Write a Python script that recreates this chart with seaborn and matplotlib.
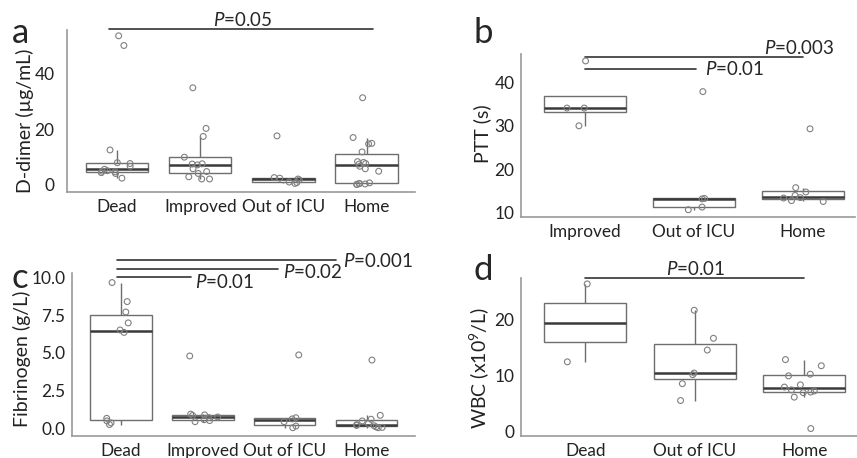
import numpy as np
import pandas as pd
import matplotlib
matplotlib.use("Agg")
import matplotlib.pyplot as plt
import seaborn as sns

# ---- data ----
ddimer_groups = ["Dead", "Improved", "Out of ICU", "Home"]
ddimer_dead = [53.8, 50.3, 12.5, 7.9, 7.6, 6.6, 5.5, 5.0, 4.8, 4.6, 4.3, 4.0, 2.3]
ddimer_improved = [35.0, 20.3, 17.4, 9.9, 7.5, 7.4, 7.1, 5.7, 4.7, 4.0, 2.8, 2.0, 2.0]
ddimer_outicu = [17.6, 2.5, 2.3, 2.0, 1.7, 0.9, 0.7, 0.4]
ddimer_home = [31.4, 17.0, 14.9, 14.7, 11.8, 8.3, 8.0, 7.6, 7.4, 6.6, 5.7, 4.8,
               0.6, 0.4, 0.3, 0.2, 0.1, 0.0]

ptt_groups = ["Improved", "Out of ICU", "Home"]
ptt_improved = [45.0, 34.1, 34.1, 30.0]
ptt_outicu = [37.9, 13.2, 13.1, 11.2, 10.6]
ptt_home = [29.3, 15.7, 14.7, 13.9, 13.4, 13.3, 12.7, 12.5]

fib_groups = ["Dead", "Improved", "Out of ICU", "Home"]
fib_dead = [9.66, 8.40, 7.71, 6.99, 6.52, 6.36, 0.67, 0.50, 0.37, 0.26]
fib_improved = [4.8, 0.95, 0.90, 0.86, 0.76, 0.72, 0.58, 0.52, 0.45]
fib_outicu = [4.87, 0.71, 0.63, 0.45, 0.16, 0.05]
fib_home = [4.53, 0.87, 0.61, 0.50, 0.32, 0.25, 0.20, 0.18, 0.10, 0.07, 0.05]

wbc_groups = ["Dead", "Out of ICU", "Home"]
wbc_dead = [26.3, 12.4]
wbc_outicu = [21.6, 16.6, 14.5, 10.4, 10.1, 8.5, 5.5]
wbc_home = [12.8, 11.7, 10.2, 9.9, 8.3, 7.9, 7.4, 7.2, 7.0, 6.9, 6.1, 0.5]


def long_df(groups, *values):
    rows = []
    for g, vals in zip(groups, values):
        for v in vals:
            rows.append({"group": g, "value": v})
    return pd.DataFrame(rows)


sns.set_style("white")
plt.rcParams["font.family"] = ["Lato", "DejaVu Sans"]
plt.rcParams["mathtext.fontset"] = "custom"
plt.rcParams["mathtext.rm"] = "Lato"
plt.rcParams["mathtext.it"] = "Lato:italic"

np.random.seed(3)

fig = plt.figure(figsize=(8.57, 4.58), dpi=100)
FS = 12.4
PFS = 13.5


def panel(rect, df, order, ylabel, ylim, yticks, yticklabels, xlim, label_xy, ypad):
    ax = fig.add_axes(rect)
    sns.boxplot(data=df, x="group", y="value", order=order, ax=ax, width=0.75,
                showfliers=False, showcaps=False, color="white", linecolor="#6e6e6e",
                linewidth=1.0, medianprops=dict(color="#3a3a3a", linewidth=1.8))
    sns.stripplot(data=df, x="group", y="value", order=order, ax=ax, jitter=0.2,
                  size=4.2, color="white", edgecolor="#808080", linewidth=0.8)
    for coll in ax.collections:
        coll.set_facecolor("none")
    ax.set_xlim(*xlim)
    ax.set_ylim(*ylim)
    ax.set_yticks(yticks)
    ax.set_yticklabels(yticklabels)
    ax.set_xlabel("")
    ax.set_ylabel(ylabel, fontsize=14, color="#222")
    ax.yaxis.set_label_coords(*label_xy)
    sns.despine(ax=ax)
    for s in ["left", "bottom"]:
        ax.spines[s].set_color("#9a9a9a")
        ax.spines[s].set_linewidth(1.2)
    ax.tick_params(length=3, width=0.8, color="#9a9a9a", labelsize=FS, labelcolor="#222")
    ax.tick_params(axis="x", pad=2)
    ax.tick_params(axis="y", pad=ypad)
    return ax


def sig(ax, x0, x1, y):
    ax.plot([x0, x1], [y, y], color="#333333", lw=1.2, clip_on=False)


# a: D-dimer
ax_a = panel([0.0782, 0.5808, 0.406, 0.3537],
             long_df(ddimer_groups, ddimer_dead, ddimer_improved, ddimer_outicu, ddimer_home),
             ddimer_groups, "D-dimer (µg/mL)", (-2.7, 55.9), [0, 20, 40], ["0", "20", "40"],
             (-0.6, 3.58), (-0.094, 0.44), 6)
sig(ax_a, -0.1, 3.07, 56.3)
ax_a.text(1.51, 59.6, "$P$=0.05", ha="center", va="center", fontsize=PFS, clip_on=False)

# b: PTT
ax_b = panel([0.6076, 0.5255, 0.390, 0.3566],
             long_df(ptt_groups, ptt_improved, ptt_outicu, ptt_home),
             ptt_groups, "PTT (s)", (8.84, 46.6), [10, 20, 30, 40], ["10", "20", "30", "40"],
             (-0.59, 2.48), (-0.087, 0.51), 1.5)
sig(ax_b, 0, 2.0, 45.9)
sig(ax_b, 0, 1.02, 43.1)
ax_b.text(2.29, 48.0, "$P$=0.003", ha="right", va="center", fontsize=PFS, clip_on=False)
ax_b.text(1.105, 43.1, "$P$=0.01", ha="left", va="center", fontsize=PFS, clip_on=False)

# c: Fibrinogen
ax_c = panel([0.0837, 0.049, 0.4006, 0.3545],
             long_df(fib_groups, fib_dead, fib_improved, fib_outicu, fib_home),
             fib_groups, "Fibrinogen (g/L)", (-0.47, 10.28), [0, 2.5, 5, 7.5, 10],
             ["0.0", "2.5", "5.0", "7.5", "10.0"], (-0.6, 3.59), (-0.12, 0.47), 1.5)
sig(ax_c, -0.05, 0.86, 10.0)
sig(ax_c, -0.05, 1.92, 10.58)
sig(ax_c, -0.05, 2.63, 11.15)
ax_c.text(0.91, 9.68, "$P$=0.01", ha="left", va="center", fontsize=PFS, clip_on=False)
ax_c.text(1.98, 10.35, "$P$=0.02", ha="left", va="center", fontsize=PFS, clip_on=False)
ax_c.text(2.71, 11.08, "$P$=0.001", ha="left", va="center", fontsize=PFS, clip_on=False)

# d: WBC
ax_d = panel([0.6076, 0.049, 0.392, 0.3446],
             long_df(wbc_groups, wbc_dead, wbc_outicu, wbc_home),
             wbc_groups, "WBC (x10$^9$/L)", (-0.75, 27.4), [0, 10, 20], ["0", "10", "20"],
             (-0.59, 2.48), (-0.087, 0.43), 1.5)
sig(ax_d, 0, 2.0, 27.3)
ax_d.text(1.01, 28.9, "$P$=0.01", ha="center", va="center", fontsize=PFS, clip_on=False)

for x, y, s in [(0.014, 0.906, "a"), (0.553, 0.906, "b"), (0.014, 0.371, "c"), (0.553, 0.389, "d")]:
    fig.text(x, y, s, fontsize=25, va="baseline", ha="left")

fig.savefig("out.png", dpi=100)
